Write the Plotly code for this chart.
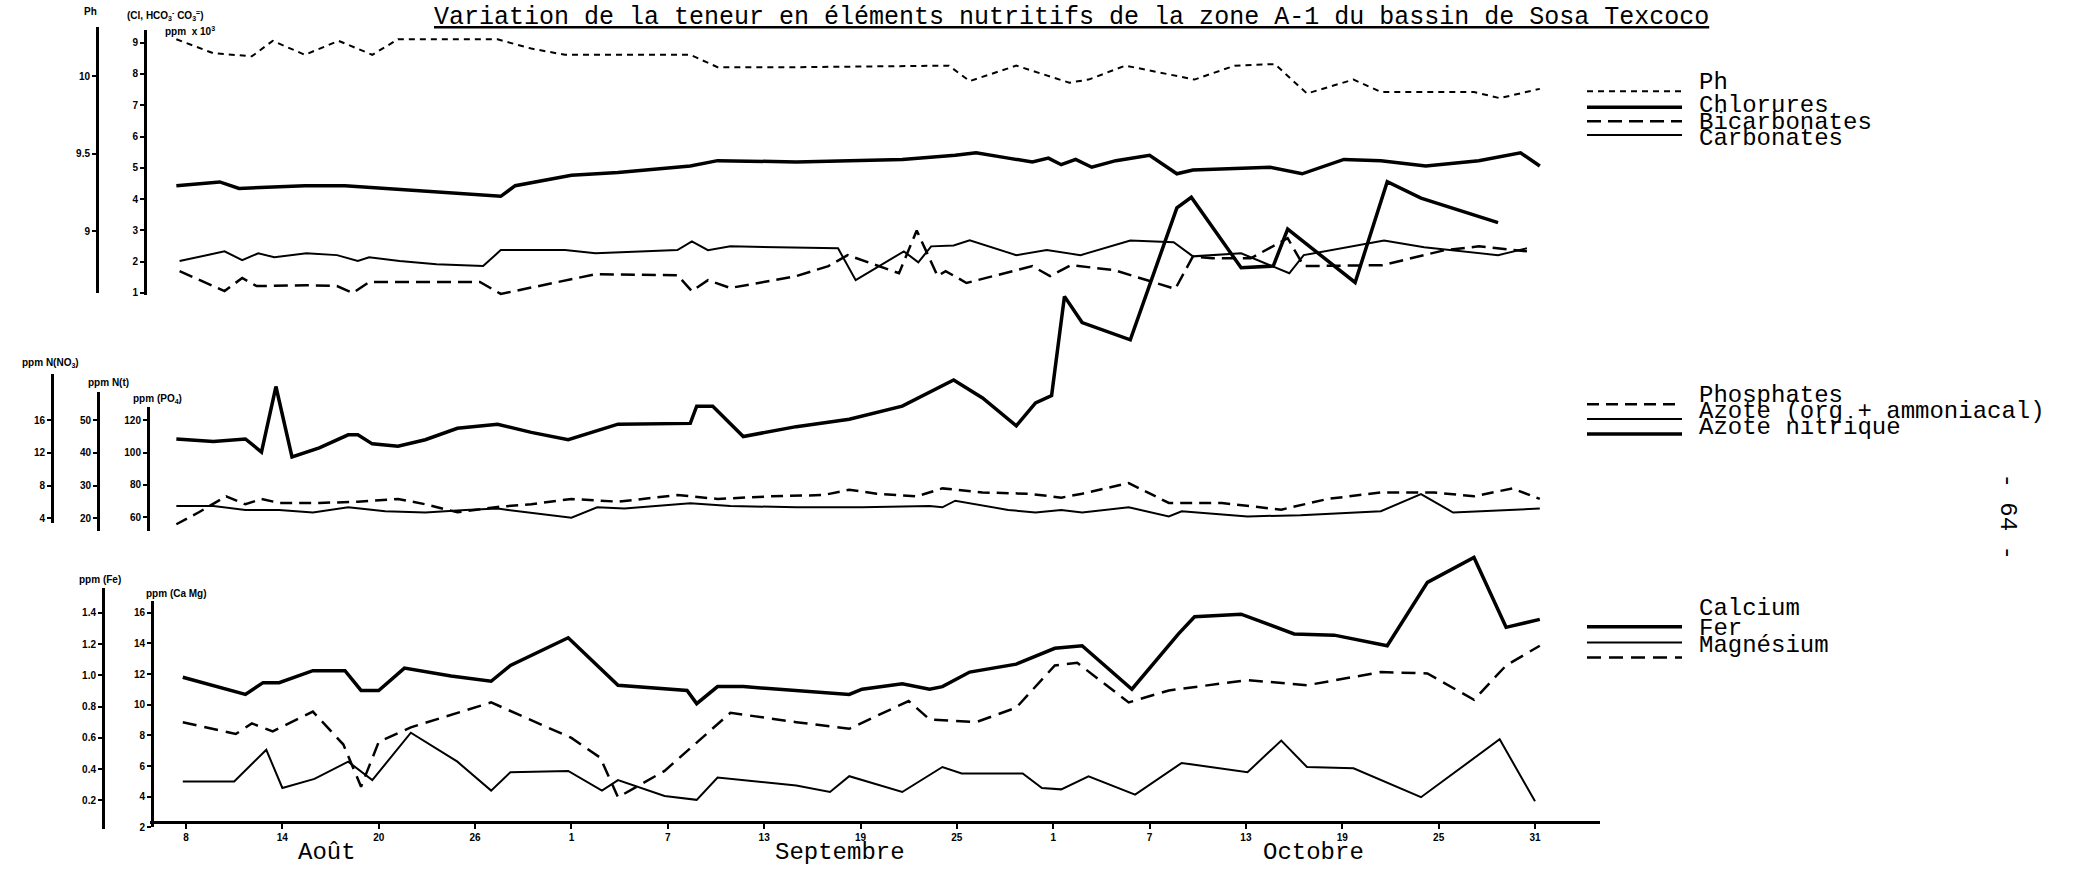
import plotly.graph_objects as go

W, H = 2081, 875

# ---------------- data (x = days after 8 August) ----------------
x_tick_days = [0, 6, 12, 18, 24, 30, 36, 42, 48, 54, 60, 66, 72, 78, 84]
x_tick_labels = ["8", "14", "20", "26", "1", "7", "13", "19", "25", "1", "7", "13", "19", "25", "31"]
month_names = ["Août", "Septembre", "Octobre"]
month_days = [8.8, 40.7, 70.2]

ph_x = [-0.6, 1.7, 4.1, 5.4, 7.4, 9.5, 11.6, 13.2, 19.4, 21.5, 23.6, 31.4, 33.1, 38.0, 47.5, 48.8, 51.7,
        55.0, 56.2, 58.5, 62.8, 65.3, 67.8, 69.8, 72.7, 74.4, 80.2, 81.8, 84.3]
ph_y = [10.24, 10.15, 10.13, 10.23, 10.14, 10.23, 10.14, 10.24, 10.24, 10.18, 10.14, 10.14, 10.06, 10.06,
        10.07, 9.97, 10.07, 9.96, 9.98, 10.07, 9.98, 10.07, 10.08, 9.89, 9.98, 9.90, 9.90, 9.86, 9.92]

chl_x = [-0.6, 2.1, 3.3, 5.4, 7.4, 9.9, 12.4, 14.9, 17.4, 19.6, 20.5, 24.0, 26.9, 31.4, 33.1, 38.0, 41.3,
         44.6, 47.9, 49.2, 51.2, 52.7, 53.7, 54.5, 55.4, 56.4, 57.9, 60.0, 61.7, 62.7, 67.5, 69.5, 72.1,
         74.4, 77.2, 80.5, 83.1, 84.3]
chl_y = [4.43, 4.55, 4.34, 4.39, 4.43, 4.43, 4.34, 4.26, 4.17, 4.09, 4.43, 4.76, 4.85, 5.06, 5.23, 5.19,
         5.23, 5.27, 5.40, 5.48, 5.31, 5.19, 5.31, 5.10, 5.27, 5.02, 5.23, 5.40, 4.81, 4.93, 5.02, 4.81,
         5.27, 5.23, 5.06, 5.23, 5.48, 5.06]

bic_x = [-0.4, 2.4, 3.5, 4.4, 7.5, 9.4, 10.4, 11.4, 18.3, 19.6, 25.5, 30.6, 31.5, 32.5, 33.9, 38.0, 40.0,
         41.2, 44.4, 45.5, 46.8, 47.3, 48.6, 52.7, 53.8, 55.1, 57.8, 61.6, 62.7, 63.9, 66.3, 68.6, 69.6,
         74.5, 78.4, 80.5, 83.5]
bic_y = [1.70, 1.06, 1.48, 1.22, 1.25, 1.22, 1.00, 1.35, 1.35, 0.97, 1.60, 1.57, 1.06, 1.41, 1.16, 1.54,
         1.86, 2.21, 1.63, 3.00, 1.54, 1.70, 1.32, 1.86, 1.54, 1.89, 1.73, 1.13, 2.17, 2.11, 2.11, 2.75,
         1.86, 1.89, 2.37, 2.49, 2.33]

car_x = [-0.4, 2.4, 3.5, 4.5, 5.5, 7.5, 9.4, 10.7, 11.4, 13.3, 15.6, 18.5, 19.6, 23.6, 25.5, 30.6, 31.5,
         32.5, 33.9, 38.0, 40.6, 41.7, 44.7, 45.6, 46.4, 47.8, 48.8, 51.7, 53.6, 55.7, 58.8, 61.5, 62.7,
         65.7, 67.7, 68.7, 69.6, 74.6, 77.1, 81.7, 83.5]
car_y = [2.02, 2.33, 2.05, 2.27, 2.14, 2.27, 2.21, 2.02, 2.14, 2.02, 1.92, 1.86, 2.37, 2.37, 2.27, 2.37,
         2.65, 2.37, 2.49, 2.46, 2.43, 1.41, 2.33, 1.98, 2.49, 2.52, 2.68, 2.21, 2.37, 2.21, 2.68, 2.62,
         2.17, 2.27, 1.86, 1.63, 2.21, 2.68, 2.46, 2.21, 2.43]

po4_x = [-0.6, 0.8, 2.5, 3.7, 4.7, 5.8, 8.3, 10.7, 13.2, 14.9, 16.9, 19.4, 21.5, 24.0, 26.9, 30.6, 33.1,
         36.4, 39.7, 41.3, 43.0, 45.5, 47.1, 49.6, 52.5, 54.5, 55.8, 58.7, 61.2, 64.5, 68.2, 71.1, 74.4,
         77.7, 80.2, 82.6, 84.3]
po4_y = [55.8, 63.2, 73.0, 68.1, 71.4, 68.9, 68.9, 69.7, 71.4, 68.1, 63.2, 66.5, 68.1, 71.4, 69.7, 73.8,
         71.4, 73.0, 73.8, 77.1, 74.6, 73.0, 77.9, 75.4, 74.6, 72.2, 74.6, 81.2, 68.9, 68.9, 64.8, 71.4,
         75.4, 75.4, 73.0, 77.9, 71.4]

nt_x = [-0.6, 1.7, 3.7, 5.8, 7.9, 10.1, 12.4, 14.9, 17.4, 19.4, 24.0, 25.6, 27.3, 31.4, 33.9, 38.0, 42.1,
        46.3, 47.1, 47.9, 51.2, 52.9, 54.5, 55.8, 58.7, 61.2, 62.0, 66.1, 69.4, 71.1, 74.4, 76.9, 78.9, 84.3]
nt_y = [23.8, 23.8, 22.6, 22.6, 21.8, 23.4, 22.2, 21.8, 22.6, 23.0, 20.2, 23.4, 23.0, 24.6, 23.8, 23.4,
        23.4, 23.8, 23.4, 25.4, 22.6, 21.8, 22.6, 21.8, 23.4, 20.6, 22.2, 20.6, 21.0, 21.4, 22.2, 27.4,
        21.8, 23.0]

no3_x = [-0.6, 1.7, 3.7, 4.7, 5.6, 6.6, 8.3, 10.1, 10.7, 11.6, 13.2, 14.9, 16.9, 19.4, 21.5, 23.8, 26.9,
         31.4, 31.8, 32.8, 34.7, 38.0, 41.3, 44.6, 47.8, 49.6, 51.7, 52.9, 53.9, 54.7, 55.8, 58.8, 61.7,
         62.6, 65.7, 67.7, 68.6, 72.8, 74.8, 76.9, 81.7]
no3_y = [13.7, 13.4, 13.7, 12.1, 20.1, 11.5, 12.6, 14.2, 14.2, 13.1, 12.8, 13.6, 15.0, 15.5, 14.5, 13.6,
         15.5, 15.6, 17.7, 17.7, 14.0, 15.2, 16.1, 17.7, 20.9, 18.7, 15.3, 18.1, 19.0, 31.1, 27.9, 25.8,
         41.9, 43.2, 34.6, 34.8, 39.3, 32.8, 45.1, 43.1, 40.1]

ca_x = [-0.2, 3.7, 4.8, 5.8, 7.9, 9.9, 10.9, 12.0, 13.6, 16.5, 19.0, 20.2, 23.8, 26.9, 31.2, 31.8, 33.1,
        34.7, 41.3, 42.1, 44.6, 46.3, 47.1, 48.8, 51.7, 54.1, 55.8, 58.9, 61.8, 62.8, 65.7, 69.0, 71.5,
        74.8, 77.3, 80.2, 82.2, 84.3]
ca_y = [11.79, 10.67, 11.44, 11.44, 12.22, 12.22, 10.93, 10.93, 12.39, 11.87, 11.53, 12.56, 14.37, 11.27,
        10.93, 10.07, 11.18, 11.18, 10.67, 11.01, 11.36, 11.01, 11.18, 12.13, 12.65, 13.68, 13.85, 11.01,
        14.62, 15.74, 15.91, 14.62, 14.54, 13.85, 17.98, 19.61, 15.05, 15.57]

fe_x = [-0.2, 3.0, 5.0, 6.0, 8.0, 10.1, 11.6, 14.0, 16.9, 19.0, 20.2, 23.8, 25.9, 26.9, 29.8, 31.8, 33.1,
        38.0, 40.1, 41.3, 44.6, 47.1, 48.3, 52.1, 53.3, 54.5, 56.2, 59.1, 62.0, 66.1, 68.2, 69.8, 72.7,
        76.9, 81.8, 84.0]
fe_y = [0.322, 0.322, 0.524, 0.280, 0.338, 0.448, 0.330, 0.633, 0.448, 0.263, 0.381, 0.389, 0.263, 0.330,
        0.229, 0.204, 0.347, 0.296, 0.254, 0.355, 0.254, 0.414, 0.372, 0.372, 0.280, 0.271, 0.355, 0.237,
        0.440, 0.381, 0.583, 0.414, 0.406, 0.221, 0.591, 0.195]

mg_x = [-0.2, 3.1, 4.1, 5.4, 7.9, 9.8, 10.9, 12.0, 14.0, 19.0, 24.0, 25.8, 26.9, 29.8, 33.9, 38.0, 41.3,
        45.0, 46.3, 49.2, 51.7, 54.1, 55.5, 58.7, 61.2, 66.1, 69.8, 74.4, 77.3, 80.2, 82.2, 84.3]
mg_y = [8.86, 8.09, 8.78, 8.26, 9.55, 7.40, 4.65, 7.57, 8.52, 10.15, 7.83, 6.54, 3.96, 5.68, 9.47, 8.86,
        8.43, 10.24, 9.04, 8.86, 9.81, 12.56, 12.73, 10.15, 10.93, 11.61, 11.27, 12.13, 12.04, 10.32, 12.56,
        13.85]

# ---------------- layout helpers ----------------
def rng(v1, p1, v2, p2, ptop, pbot):
    k = (v2 - v1) / (p2 - p1)
    return [v1 + (pbot - p1) * k, v1 + (ptop - p1) * k]


def dom(ptop, pbot):
    return [1 - pbot / H, 1 - ptop / H]


FONT_MONO = "Liberation Mono"
TICKFONT = dict(family="Liberation Sans", size=10, color="black", weight="bold")

# scale calibration: (v1, p1, v2, p2)
cal = {
    "ppm": (9, 43, 1, 295),
    "ph": (10, 77, 9, 233),
    "no3": (16, 423, 4, 522),
    "nt": (50, 423, 20, 522),
    "po4": (120, 423, 60, 521),
    "fe": (1.4, 617, 0.2, 806),
    "camg": (16, 617, 2, 833),
}
data_axis = {"ppm": "y", "ph": "y2", "no3": "y3", "nt": "y4", "po4": "y5", "fe": "y6", "camg": "y7"}

fig = go.Figure()

series = [
    ("Ph", ph_x, ph_y, "ph", dict(width=2, dash="6px,5px")),
    ("Chlorures", chl_x, chl_y, "ppm", dict(width=3.5)),
    ("Bicarbonates", bic_x, bic_y, "ppm", dict(width=2.5, dash="14px,7px")),
    ("Carbonates", car_x, car_y, "ppm", dict(width=2)),
    ("Phosphates", po4_x, po4_y, "po4", dict(width=2.5, dash="12px,7px")),
    ("Azote (org + ammoniacal)", nt_x, nt_y, "nt", dict(width=2)),
    ("Azote nitrique", no3_x, no3_y, "no3", dict(width=3.5)),
    ("Calcium", ca_x, ca_y, "camg", dict(width=3.5)),
    ("Fer", fe_x, fe_y, "fe", dict(width=2)),
    ("Magnésium", mg_x, mg_y, "camg", dict(width=2.5, dash="14px,8px")),
]
for name, xs, ys, ax, ln in series:
    fig.add_trace(go.Scatter(x=xs, y=ys, mode="lines", name=name, showlegend=False,
                             line=dict(color="black", **ln), xaxis="x", yaxis=data_axis[ax]))

layout = dict(
    width=W, height=H, margin=dict(l=0, r=0, t=0, b=0),
    paper_bgcolor="white", plot_bgcolor="rgba(0,0,0,0)", showlegend=False,
)

kx = 84 / (1535 - 186)
layout["xaxis"] = dict(
    domain=[150 / W, 1600 / W], range=[(150 - 186) * kx, (1600 - 186) * kx],
    anchor="free", position=1 - 828 / H, showline=True, linewidth=3, linecolor="black",
    ticks="outside", ticklen=5, tickwidth=2, tickcolor="black",
    tickvals=x_tick_days, ticktext=x_tick_labels, tickfont=TICKFONT,
    showgrid=False, zeroline=False,
)

# invisible data axes spanning the full height
for key, yid in data_axis.items():
    v1, p1, v2, p2 = cal[key]
    name = "yaxis" if yid == "y" else "yaxis" + yid[1:]
    d = dict(domain=[0, 1], range=rng(v1, p1, v2, p2, 0, H), visible=False,
             showgrid=False, zeroline=False, anchor="x")
    if yid != "y":
        d["overlaying"] = "y"
    layout[name] = d

# visible axes (short vertical scales)
disp = [
    ("ph", 97, 27, 295, [10, 9.5, 9], ["10", "9.5", "9"]),
    ("ppm", 145, 30, 297, [9, 8, 7, 6, 5, 4, 3, 2, 1], ["9", "8", "7", "6", "5", "4", "3", "2", "1"]),
    ("no3", 52, 377, 527, [16, 12, 8, 4], ["16", "12", "8", "4"]),
    ("nt", 98, 395, 535, [50, 40, 30, 20], ["50", "40", "30", "20"]),
    ("po4", 148, 410, 535, [120, 100, 80, 60], ["120", "100", "80", "60"]),
    ("fe", 103, 592, 835, [1.4, 1.2, 1.0, 0.8, 0.6, 0.4, 0.2], ["1.4", "1.2", "1.0", "0.8", "0.6", "0.4", "0.2"]),
    ("camg", 152, 605, 833, [16, 14, 12, 10, 8, 6, 4, 2], ["16", "14", "12", "10", "8", "6", "4", "2"]),
]
for i, (key, xp, ptop, pbot, tv, tt) in enumerate(disp):
    n = 11 + i
    v1, p1, v2, p2 = cal[key]
    layout["yaxis%d" % n] = dict(
        domain=dom(ptop, pbot), range=rng(v1, p1, v2, p2, ptop, pbot), anchor="free",
        position=xp / W, showline=True, linewidth=3, linecolor="black",
        ticks="outside", ticklen=4, tickwidth=2, tickcolor="black",
        tickvals=tv, ticktext=tt, tickfont=TICKFONT, showgrid=False, zeroline=False,
    )
    fig.add_trace(go.Scatter(x=[None], y=[None], xaxis="x", yaxis="y%d" % n,
                             showlegend=False, hoverinfo="skip"))

annotations = []
shapes = []

# axis headers
hdr = [
    ("Ph", 90, 12),
    ("(Cl, HCO<sub>3</sub><sup>-</sup> CO<sub>3</sub><sup>=</sup>)", 165, 16),
    ("ppm  x 10<sup>3</sup>", 190, 31),
    ("ppm N(NO<sub>3</sub>)", 50, 366),
    ("ppm N(t)", 108, 385),
    ("ppm (PO<sub>4</sub>)", 157, 402),
    ("ppm (Fe)", 100, 583),
    ("ppm (Ca Mg)", 176, 598),
]
for txt, px, py in hdr:
    annotations.append(dict(text=txt, x=px / W, y=1 - py / H, xref="paper", yref="paper",
                            showarrow=False, xanchor="center", yanchor="middle",
                            font=dict(family="Liberation Sans", size=10, color="black", weight="bold")))

# title
annotations.append(dict(
    text="<u>Variation de la teneur en éléments nutritifs de la zone A-1 du bassin de Sosa Texcoco</u>",
    x=1071 / W, y=1 - 1 / H, xref="paper", yref="paper", showarrow=False,
    xanchor="center", yanchor="top", font=dict(family=FONT_MONO, size=25, color="black")))

# month labels
for m, dday in zip(month_names, month_days):
    annotations.append(dict(text=m, x=dday, y=1 - 858 / H, xref="x", yref="paper", showarrow=False,
                            xanchor="center", yanchor="middle",
                            font=dict(family=FONT_MONO, size=24, color="black")))

# page number
annotations.append(dict(text="- 64 -", x=2008 / W, y=1 - 520 / H, xref="paper", yref="paper",
                        showarrow=False, textangle=90, xanchor="center", yanchor="middle",
                        font=dict(family=FONT_MONO, size=24, color="black")))

# custom legends
legend_groups = [
    # (text, text_y, line_y, line style)
    [("Ph", 83, 92, dict(width=2, dash="6px,5px")),
     ("Chlorures", 106, 108, dict(width=3.5)),
     ("Bicarbonates", 123, 122, dict(width=2.5, dash="14px,7px")),
     ("Carbonates", 139, 136, dict(width=2))],
    [("Phosphates", 398, 407, dict(width=2.5, dash="12px,7px")),
     ("Azote (org + ammoniacal)", 414, 422, dict(width=2)),
     ("Azote nitrique", 430, 437, dict(width=3.5))],
    [("Calcium", 613, 631, dict(width=3.5)),
     ("Fer", 633, 647, dict(width=2)),
     ("Magnésium", 650, 662, dict(width=2.5, dash="14px,8px"))],
]
for grp in legend_groups:
    for txt, ty, ly, ln in grp:
        annotations.append(dict(text=txt, x=1697 / W, y=1 - ty / H, xref="paper", yref="paper",
                                showarrow=False, xanchor="left", yanchor="middle",
                                font=dict(family=FONT_MONO, size=24, color="black")))
        shapes.append(dict(type="line", xref="paper", yref="paper", x0=1587 / W, x1=1682 / W,
                           y0=1 - ly / H, y1=1 - ly / H, line=dict(color="black", **ln)))

layout["annotations"] = annotations
layout["shapes"] = shapes
fig.update_layout(**layout)

fig.write_html("out.html")
